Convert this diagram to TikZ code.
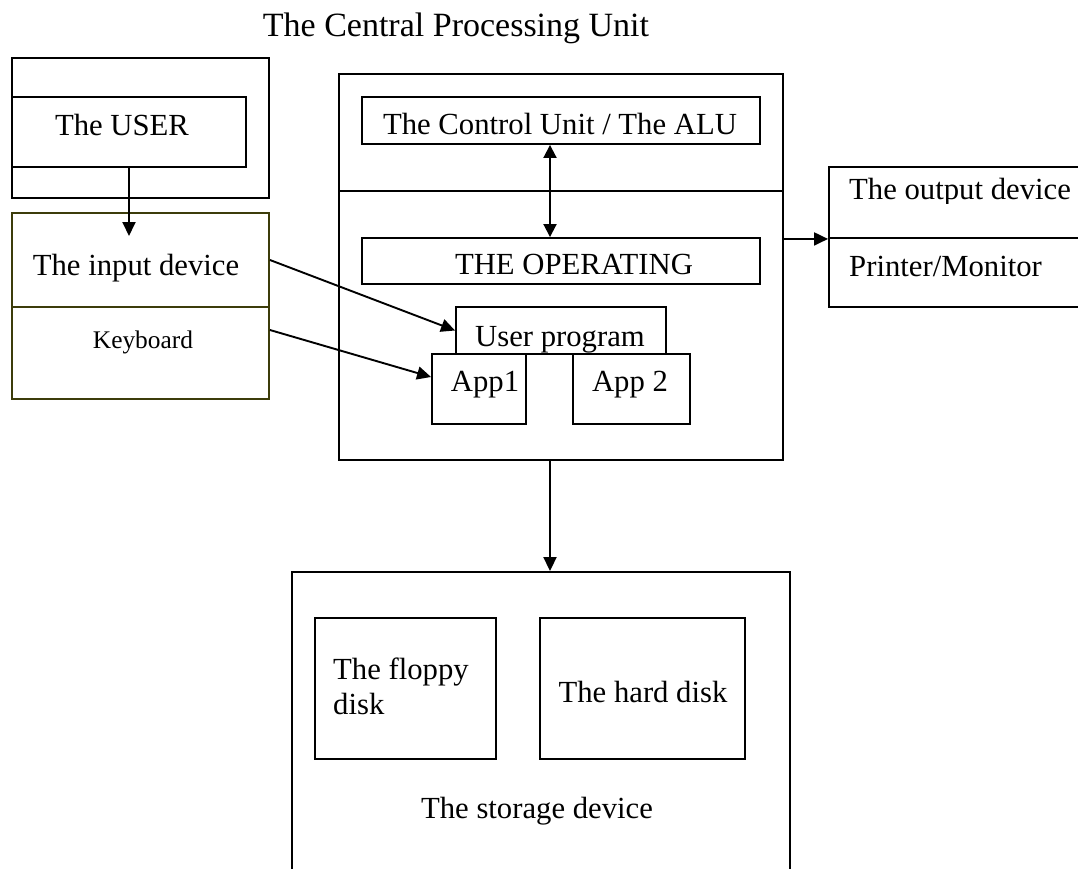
\documentclass[tikz,border=0pt]{standalone}
\usepackage{fontspec}
\setmainfont{Liberation Serif}
\usetikzlibrary{arrows.meta}
\definecolor{olivebox}{RGB}{60,60,10}
\tikzset{
  box/.style={draw, line width=1.9pt, inner sep=0pt, rectangle},
  obox/.style={box, draw=olivebox},
  lbl/.style={inner sep=0pt, anchor=base, font=\fontsize{30.7pt}{35pt}\selectfont},
  lbll/.style={lbl, anchor=base west},
  conn/.style={line width=1.9pt, -{Triangle[length=14pt,width=13pt]}},
  dconn/.style={line width=1.9pt, {Triangle[length=13pt,width=13pt]}-{Triangle[length=13pt,width=13pt]}}
}
\begin{document}
\begin{tikzpicture}[x=1pt,y=-1pt]
\useasboundingbox (0,0) rectangle (1078,869);
\clip (0,0) rectangle (1078,869);
\fill[white] (0,0) rectangle (1078,869);

% title
\node[lbl, font=\fontsize{34pt}{40pt}\selectfont] (title) at (456,37) {The Central Processing Unit};

% user
\node[box, minimum width=257pt, minimum height=140pt] (userouter) at (140.5,128) {};
\node[box, minimum width=234pt, minimum height=70pt] (user) at (129,132) {};
\node[lbl] (usert) at (122,136) {The USER};

% input device
\node[obox, minimum width=257pt, minimum height=94pt] (intop) at (140.5,260) {};
\node[obox, minimum width=257pt, minimum height=92pt] (kbd) at (140.5,353) {};
\node[lbl] (intopt) at (136,275) {The input device};
\node[lbl, font=\fontsize{25.4pt}{30pt}\selectfont] (kbdt) at (143,348) {Keyboard};
\coordinate (userin) at (129,236);

% CPU
\node[box, minimum width=444pt, minimum height=117pt] (cputop) at (561,132.5) {};
\node[box, minimum width=444pt, minimum height=269pt] (cpubot) at (561,325.5) {};
\node[box, minimum width=398pt, minimum height=47pt] (cu) at (561,120.5) {};
\node[lbl] (cut) at (560,135) {The Control Unit / The ALU};
\node[box, minimum width=398pt, minimum height=46pt] (os) at (561,261) {};
\node[lbl] (ost) at (574,274) {THE OPERATING};
\node[box, minimum width=210pt, minimum height=47pt] (uprog) at (561,330.5) {};
\node[lbl] (uprogt) at (560,346) {User program};
\node[box, minimum width=94pt, minimum height=70pt] (app1) at (479,389) {};
\node[lbl] (app1t) at (485,391) {App1};
\node[box, minimum width=117pt, minimum height=70pt] (app2) at (631.5,389) {};
\node[lbl] (app2t) at (630,391) {App 2};

% output device
\node[box, minimum width=291pt, minimum height=71pt] (outtop) at (974.5,202.5) {};
\node[box, minimum width=291pt, minimum height=69pt] (outbot) at (974.5,272.5) {};
\begin{scope}
\clip (829,160) rectangle (1078,203);
\node[lbll] (outt) at (849,200) {The output device};
\end{scope}
\node[lbll] (outbt) at (849,276) {Printer/Monitor};

% storage
\node[box, minimum width=498pt, minimum height=340pt] (storage) at (541,742) {};
\node[box, minimum width=181pt, minimum height=141pt] (floppy) at (405.5,688.5) {};
\node[lbll] (floppyt1) at (333,679) {The floppy};
\node[lbll] (floppyt2) at (333,714) {disk};
\node[box, minimum width=205pt, minimum height=141pt] (hard) at (642.5,688.5) {};
\node[lbl] (hardt) at (643,702) {The hard disk};
\node[lbl] (storaget) at (537,818) {The storage device};

% connectors
\draw[conn] (user.south) -- (userin);
\draw[conn] (intop.east) -- (uprog.west);
\draw[conn] ([yshift=23pt]kbd.east) -- ([yshift=12pt]app1.west);
\draw[dconn] ([xshift=-11pt]cu.south) -- ([xshift=-11pt]os.north);
\draw[conn] (cpubot.east |- outtop.south) -- (outtop.south west);
\draw[conn] ([xshift=-11pt]cpubot.south) -- ([xshift=-11pt]cpubot.south |- storage.north);
\end{tikzpicture}
\end{document}
